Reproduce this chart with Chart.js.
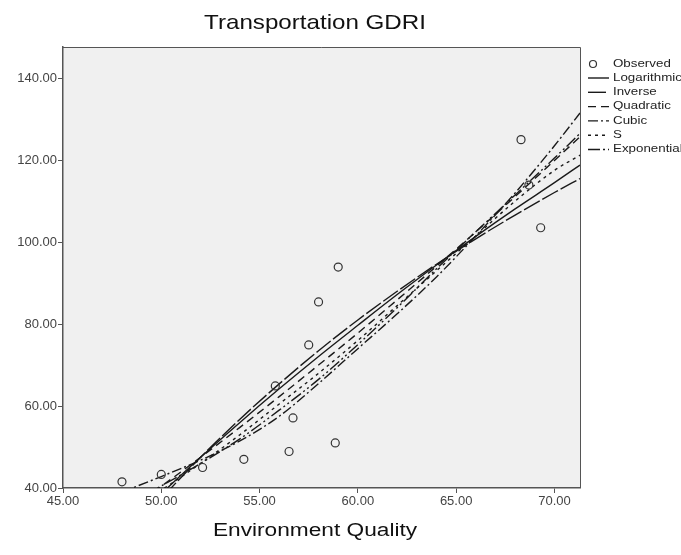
<!DOCTYPE html>
<html>
<head>
<meta charset="utf-8">
<title>Transportation GDRI</title>
<script src="https://cdn.jsdelivr.net/npm/chart.js@4/dist/chart.umd.min.js"></script>
<style>
    body { margin: 0; background: #fff; }
    #chart { display: block; }
</style>
</head>
<body>
<canvas id="chart" width="681" height="555"></canvas>
<script>
// ------------------------------
// Data
// ------------------------------
const obsX = [48.0, 50.0, 52.1, 54.2, 56.5, 58.85, 56.7, 55.8, 57.5, 58.0, 59.0, 68.3, 68.7, 69.3];
const obsY = [41.5, 43.3, 45.0, 47.0, 48.9, 51.0, 57.1, 64.9, 74.9, 85.4, 93.9, 125.0, 113.9, 103.5];

// fitted curves, sampled along x
const curveX = [48, 50, 52, 54, 56, 58, 60, 62, 64, 66, 68, 70, 71.3];
const logY   = [29.4, 38.6, 47.5, 56.0, 64.2, 72.1, 79.7, 87.2, 94.4, 101.4, 108.1, 114.5, 118.8];
const invY   = [26.5, 37.4, 47.5, 56.8, 65.4, 73.5, 81.0, 88.0, 94.6, 100.8, 106.6, 112.1, 115.5];
const quadY  = [33.4, 40.4, 47.5, 54.8, 62.3, 70.0, 77.8, 85.9, 94.1, 102.5, 111.1, 119.9, 125.7];
const cubY   = [39.0, 42.8, 46.8, 51.5, 57.5, 65.5, 74.0, 82.5, 91.5, 101.5, 112.0, 123.5, 131.5];
const sY     = [34.0, 39.5, 46.0, 53.0, 60.5, 68.0, 76.0, 84.5, 93.0, 101.5, 110.0, 117.5, 121.2];
const expY   = [35.5, 40.5, 46.0, 52.0, 59.0, 66.5, 75.0, 84.0, 93.5, 102.5, 111.5, 120.5, 126.5];

const xTicks = [45, 50, 55, 60, 65, 70];
const yTicks = [40, 60, 80, 100, 120, 140];

const curveNames = ['Logarithmic', 'Inverse', 'Quadratic', 'Cubic', 'S', 'Exponential'];
const curveDash = [[], [18, 3], [8, 5], [10, 3, 2, 3], [3, 4], [12, 3, 2, 3, 2, 3]];
const curveValues = [logY, invY, quadY, cubY, sY, expY];

const INK = '#1a1a1a';
const AXIS = '#555';

// ------------------------------
// helpers
// ------------------------------
function toPoints(xs, ys) {
    return xs.map((x, i) => ({ x: x, y: ys[i] }));
}

// the original picture is stretched sideways a little, so text is scaled in x
function stretchText(ctx, text, x, y, font, sx, align) {
    ctx.save();
    ctx.font = font;
    ctx.textBaseline = 'middle';
    ctx.textAlign = align || 'left';
    ctx.translate(x, y);
    ctx.scale(sx, 1);
    ctx.fillText(text, 0, 0);
    ctx.restore();
}

// ------------------------------
// Frame, titles, legend
// ------------------------------
const spssFrame = {
    id: 'spssFrame',
    beforeDraw(chart) {
        const { ctx, chartArea: a } = chart;
        ctx.save();
        ctx.fillStyle = '#fff';
        ctx.fillRect(0, 0, chart.width, chart.height);
        ctx.fillStyle = '#f0f0f0';
        ctx.fillRect(a.left, a.top, a.right - a.left, a.bottom - a.top);
        ctx.restore();
    },
    afterDraw(chart) {
        const { ctx, chartArea: a } = chart;
        ctx.save();
        ctx.strokeStyle = AXIS;
        ctx.lineWidth = 1;
        ctx.beginPath();
        ctx.moveTo(a.left, a.top + 0.5);
        ctx.lineTo(a.right + 0.5, a.top + 0.5);
        ctx.lineTo(a.right + 0.5, a.bottom);
        ctx.stroke();

        ctx.fillStyle = '#111';
        stretchText(ctx, 'Transportation GDRI', 315, 23, '21px "Liberation Sans", Arial', 1.15, 'center');
        stretchText(ctx, 'Environment Quality', 315, 531, '18px "Liberation Sans", Arial', 1.26, 'center');

        // legend
        const lx = 588, tx = 613;
        let y = 64;
        ctx.strokeStyle = '#333';
        ctx.lineWidth = 1.2;
        ctx.beginPath();
        ctx.arc(593, y, 3.5, 0, Math.PI * 2);
        ctx.stroke();
        ctx.fillStyle = '#222';
        stretchText(ctx, 'Observed', tx, y, '10.5px "Liberation Sans", Arial', 1.27);
        curveNames.forEach((name, i) => {
            y = 78 + i * 14.3;
            ctx.strokeStyle = INK;
            ctx.lineWidth = 1.4;
            ctx.setLineDash(curveDash[i]);
            ctx.beginPath();
            ctx.moveTo(lx, y);
            ctx.lineTo(lx + 21, y);
            ctx.stroke();
            ctx.setLineDash([]);
            stretchText(ctx, name, tx, y, '10.5px "Liberation Sans", Arial', 1.27);
        });
        ctx.restore();
    }
};

// ------------------------------
// Chart
// ------------------------------
const datasets = [{
    type: 'scatter',
    label: 'Observed',
    data: toPoints(obsX, obsY),
    pointStyle: 'circle',
    pointRadius: 4,
    borderColor: '#333',
    backgroundColor: 'rgba(0,0,0,0)',
    borderWidth: 1.2
}];

curveNames.forEach((name, i) => {
    datasets.push({
        type: 'line',
        label: name,
        data: toPoints(curveX, curveValues[i]),
        showLine: true,
        borderColor: INK,
        borderWidth: 1.4,
        borderDash: curveDash[i],
        pointRadius: 0,
        fill: false,
        cubicInterpolationMode: 'monotone'
    });
});

const tickFont = { family: '"Liberation Sans", Arial', size: 13 };

new Chart(document.getElementById('chart'), {
    type: 'scatter',
    data: { datasets: datasets },
    options: {
        responsive: false,
        animation: false,
        layout: { padding: { top: 47, right: 101, left: 0, bottom: 0 } },
        plugins: { legend: { display: false }, tooltip: { enabled: false } },
        scales: {
            x: {
                type: 'linear',
                min: 45,
                max: 71.3,
                afterBuildTicks: s => { s.ticks = xTicks.map(v => ({ value: v })); },
                afterFit: s => { s.height = 67; },
                ticks: { callback: v => v.toFixed(2), font: tickFont, color: '#444', padding: 1, maxRotation: 0 },
                grid: { drawOnChartArea: false, tickLength: 5, color: AXIS },
                border: { color: AXIS, width: 1.5 }
            },
            y: {
                min: 40,
                max: 147.6,
                afterBuildTicks: s => { s.ticks = yTicks.map(v => ({ value: v })); },
                afterFit: s => { s.width = 63; },
                ticks: { callback: v => v.toFixed(2), font: tickFont, color: '#444', padding: 1 },
                grid: { drawOnChartArea: false, tickLength: 5, color: AXIS },
                border: { color: AXIS, width: 1.5 }
            }
        }
    },
    plugins: [spssFrame]
});
</script>
</body>
</html>
